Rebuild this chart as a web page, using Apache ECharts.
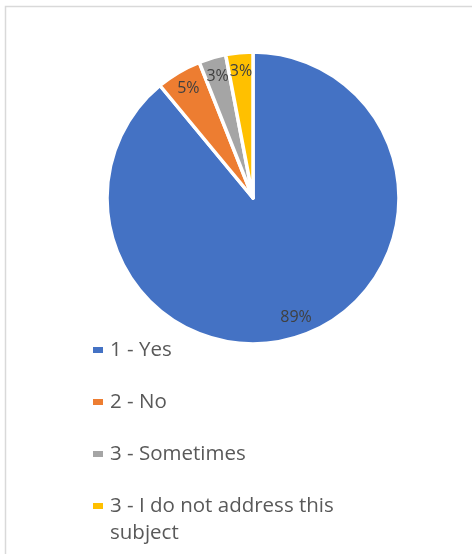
<!DOCTYPE html>
<html>
<head>
<meta charset="utf-8">
<script src="https://cdn.jsdelivr.net/npm/echarts@6/dist/echarts.min.js"></script>
<style>
  html, body { margin: 0; padding: 0; background: #fff; }
  #chart { width: 472px; height: 554px; }
</style>
</head>
<body>
<div id="chart"></div>
<script>
const categories = ['1 - Yes', '2 - No', '3 - Sometimes', '3 - I do not address this subject'];
const values = [89, 5, 3, 3];
const colors = ['#4472C4', '#ED7D31', '#A5A5A5', '#FFC000'];

const FONT = 'Open Sans';
const chart = echarts.init(document.getElementById('chart'), null, { renderer: 'canvas' });

const mainData = categories.map((c, i) => ({ name: c, value: values[i], itemStyle: { color: colors[i] } }));
const labelData = categories.map((c, i) => ({ name: c, value: values[i] }));

chart.setOption({
  backgroundColor: '#ffffff',
  animation: false,
  graphic: [{
    type: 'rect',
    shape: { x: 5.5, y: 6.5, width: 480, height: 560 },
    style: { fill: 'none', stroke: '#D9D9D9', lineWidth: 1.5 },
    silent: true
  }],
  legend: {
    orient: 'vertical',
    left: 91,
    top: 309.5,
    padding: 0,
    itemWidth: 12,
    itemHeight: 8,
    itemGap: -29,
    icon: 'rect',
    selectedMode: false,
    formatter: function (name) {
      // spacer lines keep the first text line centred on the icon
      return name === categories[3] ? '\n' + name : '\n' + name + '\n\u00a0';
    },
    textStyle: {
      fontFamily: FONT,
      fontSize: 20.5,
      color: '#595959',
      lineHeight: 27,
      width: 245,
      overflow: 'break',
      padding: [0, 0, 0, 1]
    },
    data: categories
  },
  series: [
    {
      type: 'pie',
      name: 'main',
      center: [253, 198],
      radius: [0, 146],
      startAngle: 90,
      clockwise: true,
      label: { show: false },
      labelLine: { show: false },
      emphasis: { disabled: true },
      itemStyle: { borderColor: '#ffffff', borderWidth: 3.5 },
      data: mainData
    },
    {
      type: 'pie',
      name: 'labels',
      center: [253, 198],
      radius: [102, 146],
      startAngle: 90,
      clockwise: true,
      silent: true,
      legendHoverLink: false,
      itemStyle: { color: 'rgba(0,0,0,0)', borderWidth: 0 },
      label: {
        show: true,
        position: 'inside',
        formatter: '{c}%',
        fontFamily: FONT,
        fontSize: 16,
        color: '#404040'
      },
      labelLine: { show: false },
      emphasis: { disabled: true },
      data: labelData
    }
  ]
});
</script>
</body>
</html>
